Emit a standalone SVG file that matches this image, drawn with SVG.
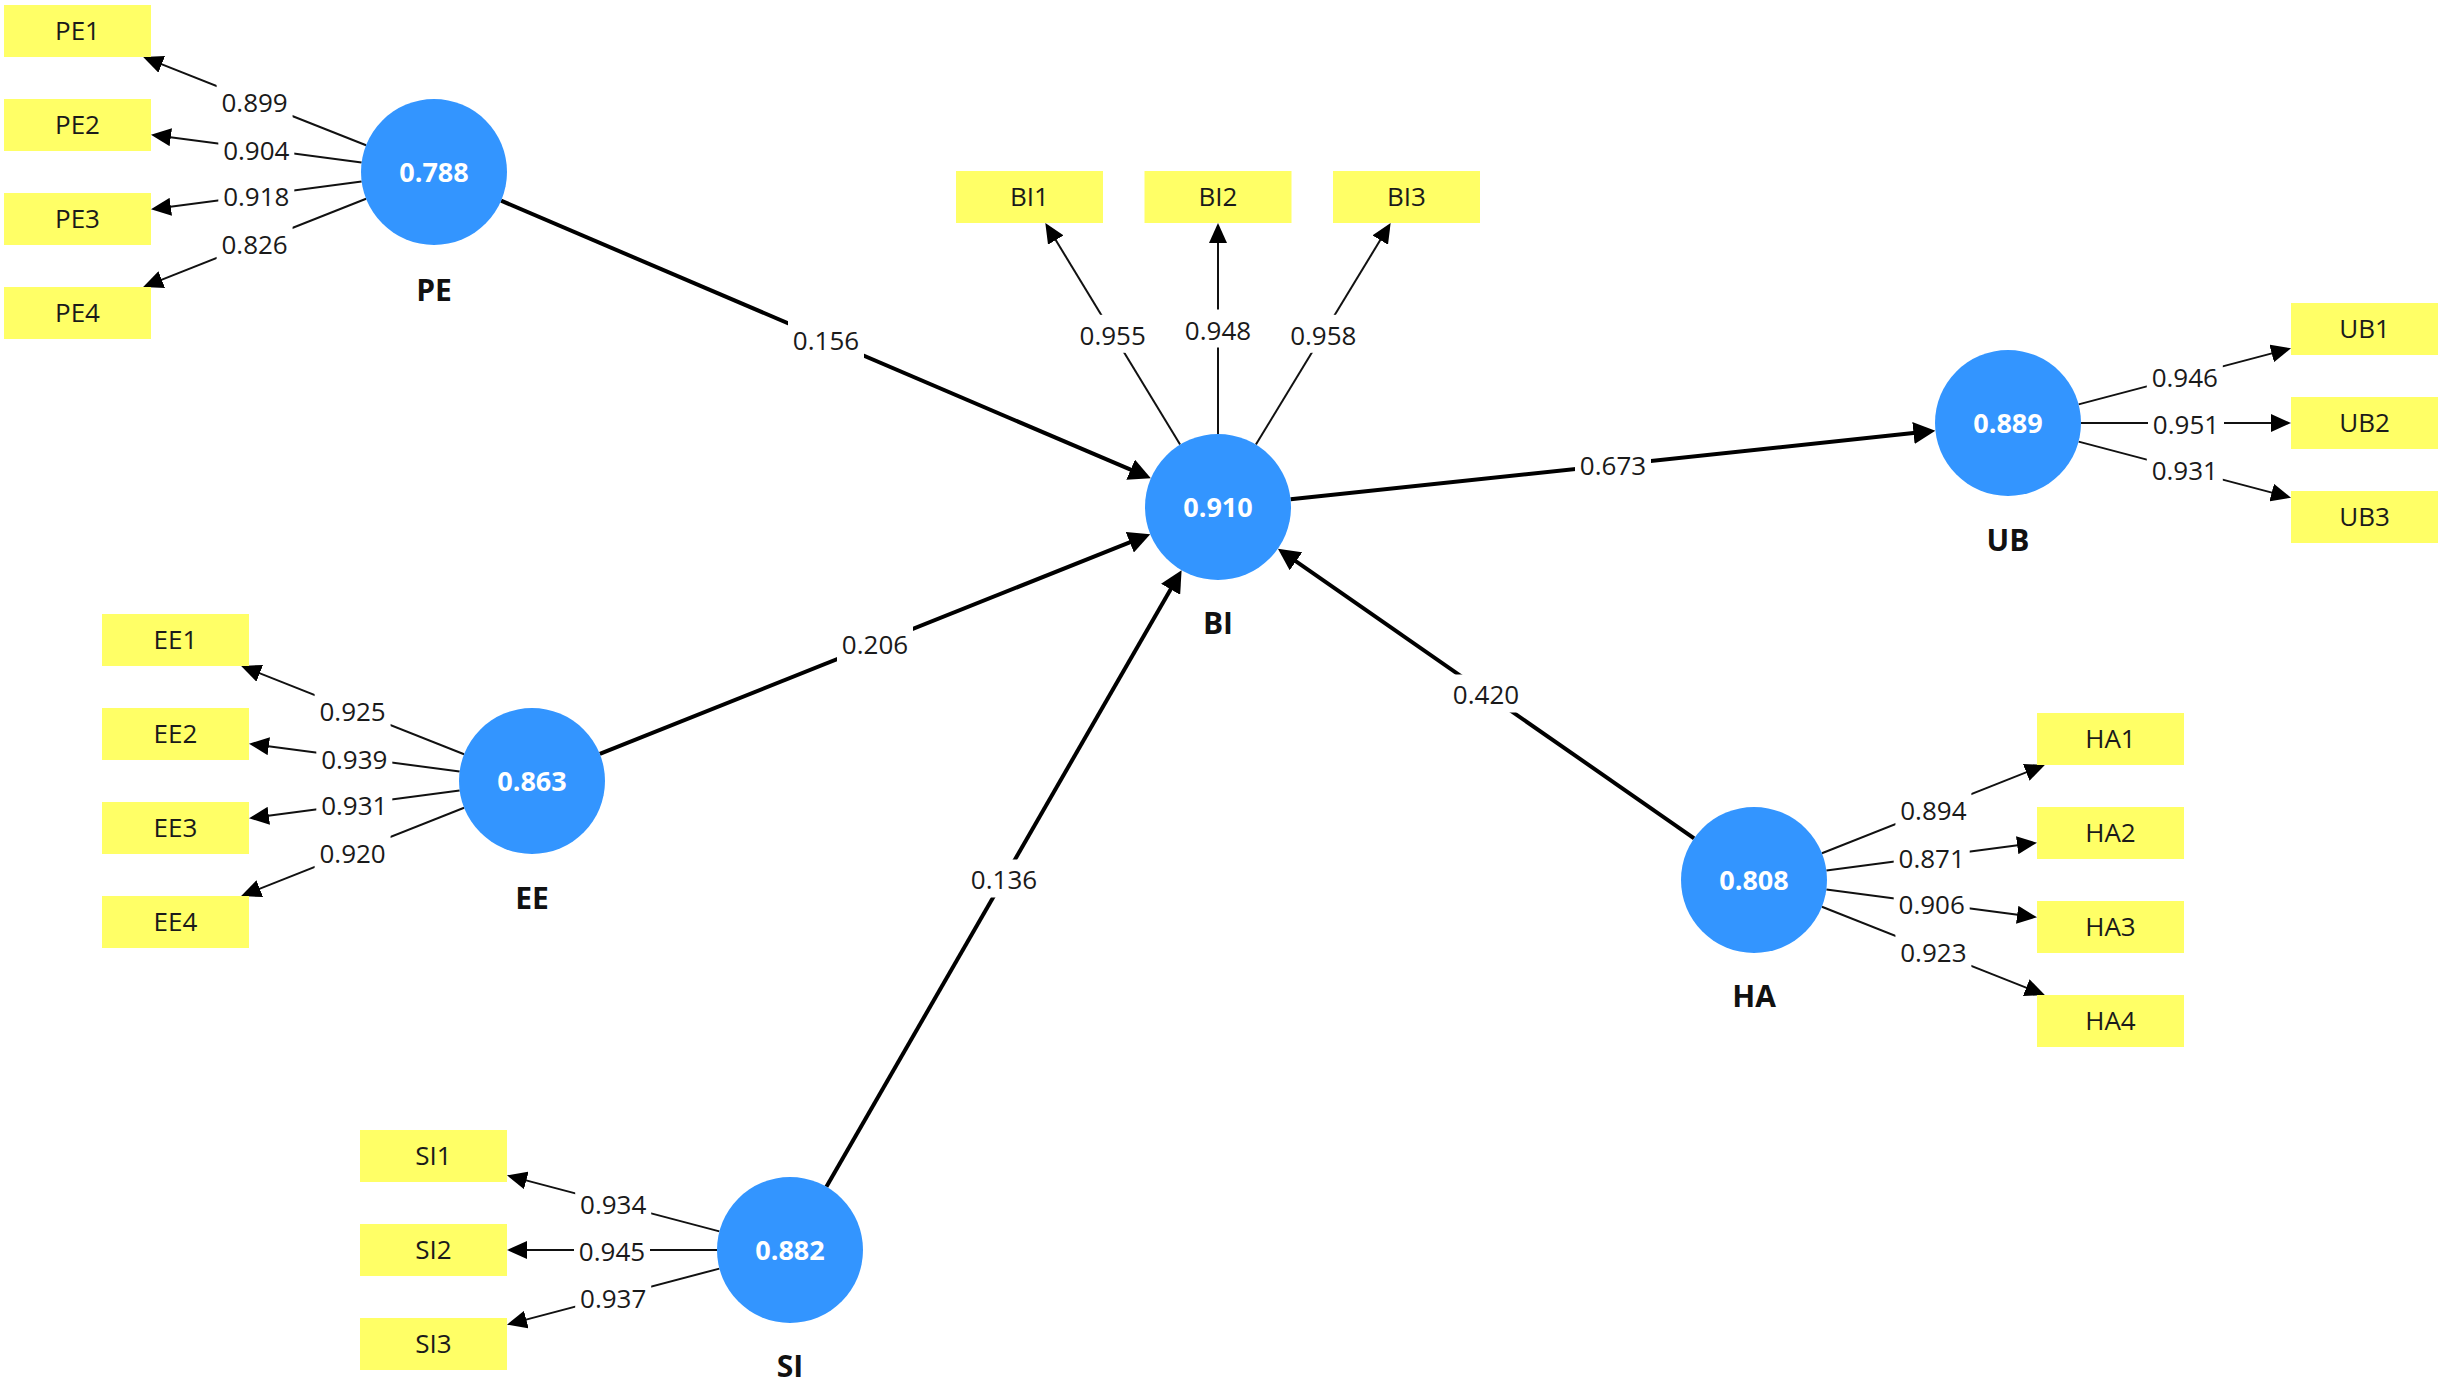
<svg xmlns="http://www.w3.org/2000/svg" width="2443" height="1384" viewBox="0 0 2443 1384">
  <defs>
    <style>
      .ind rect { fill: #ffff66; }
      .ind text { font-family: "Open Sans", "Noto Sans", sans-serif; font-size: 26px; fill: #1a1a1a; text-anchor: middle; dominant-baseline: central; }
      .lv circle { fill: #3395ff; }
      .lv .val { font-family: "Open Sans", "Noto Sans", sans-serif; font-size: 27px; font-weight: bold; fill: #ffffff; text-anchor: middle; dominant-baseline: central; }
      .lv .name { font-family: "Open Sans", "Noto Sans", sans-serif; font-size: 30px; font-weight: bold; fill: #111111; text-anchor: middle; dominant-baseline: central; }
      .load { stroke: #111111; stroke-width: 2; fill: none; marker-end: url(#arrS); }
      .path { stroke: #000000; stroke-width: 4; fill: none; marker-end: url(#arrL); }
      .lbl rect { fill: #ffffff; }
      .lbl text { font-family: "Open Sans", "Noto Sans", sans-serif; font-size: 26px; fill: #1a1a1a; text-anchor: middle; dominant-baseline: central; }
    </style>
    <marker id="arrS" markerUnits="userSpaceOnUse" markerWidth="20" markerHeight="18" refX="12" refY="9" orient="auto">
      <path d="M0,0 L20,9 L0,18 z" fill="#000000"/>
    </marker>
    <marker id="arrL" markerUnits="userSpaceOnUse" markerWidth="22" markerHeight="22" refX="14" refY="11" orient="auto">
      <path d="M0,0 L22,11 L0,22 z" fill="#000000"/>
    </marker>
  </defs>
  <rect x="0" y="0" width="2443" height="1384" fill="#ffffff"/>

  <g id="connectors">
    <!-- structural paths -->
    <line class="path" x1="501.1" y1="200.7" x2="1143.5" y2="475.2"/>
    <line class="path" x1="599.8" y1="753.9" x2="1142.8" y2="537.1"/>
    <line class="path" x1="826.4" y1="1186.7" x2="1177.6" y2="577.2"/>
    <line class="path" x1="1694.1" y1="838.3" x2="1284.5" y2="553.3"/>
    <line class="path" x1="1290.6" y1="499.3" x2="1927.4" y2="431.5"/>
    <!-- PE loadings -->
    <line class="load" x1="366.1" y1="145.2" x2="150.6" y2="59.9"/>
    <line class="load" x1="361.6" y1="162.5" x2="158.9" y2="135.7"/>
    <line class="load" x1="361.6" y1="181.5" x2="158.9" y2="208.3"/>
    <line class="load" x1="366.1" y1="198.8" x2="150.6" y2="284.1"/>
    <!-- EE loadings -->
    <line class="load" x1="464.1" y1="754.2" x2="248.6" y2="668.9"/>
    <line class="load" x1="459.6" y1="771.5" x2="256.9" y2="744.7"/>
    <line class="load" x1="459.6" y1="790.5" x2="256.9" y2="817.3"/>
    <line class="load" x1="464.1" y1="807.8" x2="248.6" y2="893.1"/>
    <!-- SI loadings -->
    <line class="load" x1="719.4" y1="1231.4" x2="514.7" y2="1177.4"/>
    <line class="load" x1="717" y1="1250" x2="515" y2="1250"/>
    <line class="load" x1="719.4" y1="1268.6" x2="514.7" y2="1322.6"/>
    <!-- HA loadings -->
    <line class="load" x1="1821.9" y1="853.2" x2="2037.4" y2="767.9"/>
    <line class="load" x1="1826.4" y1="870.5" x2="2029.1" y2="843.7"/>
    <line class="load" x1="1826.4" y1="889.5" x2="2029.1" y2="916.3"/>
    <line class="load" x1="1821.9" y1="906.8" x2="2037.4" y2="992.1"/>
    <!-- UB loadings -->
    <line class="load" x1="2078.6" y1="404.4" x2="2283.3" y2="350.4"/>
    <line class="load" x1="2081" y1="423" x2="2283" y2="423"/>
    <line class="load" x1="2078.6" y1="441.6" x2="2283.3" y2="495.6"/>
    <!-- BI loadings -->
    <line class="load" x1="1180.1" y1="444.6" x2="1049.5" y2="229.8"/>
    <line class="load" x1="1218" y1="434" x2="1218" y2="231"/>
    <line class="load" x1="1255.9" y1="444.6" x2="1386.5" y2="229.8"/>

    <!-- labels -->
    <g class="lbl">
      <rect x="788" y="320.5" width="76" height="38"/><text x="826" y="339.5">0.156</text>
      <rect x="837" y="625" width="76" height="38"/><text x="875" y="644">0.206</text>
      <rect x="966" y="859.5" width="76" height="38"/><text x="1004" y="878.5">0.136</text>
      <rect x="1448" y="674.5" width="76" height="38"/><text x="1486" y="693.5">0.420</text>
      <rect x="1575" y="446" width="76" height="38"/><text x="1613" y="465">0.673</text>

      <rect x="216.6" y="82.1" width="76" height="38"/><text x="254.6" y="102.1">0.899</text>
      <rect x="218.3" y="129.6" width="76" height="38"/><text x="256.3" y="149.6">0.904</text>
      <rect x="218.3" y="176.4" width="76" height="38"/><text x="256.3" y="196.4">0.918</text>
      <rect x="216.6" y="223.9" width="76" height="38"/><text x="254.6" y="243.9">0.826</text>

      <rect x="314.6" y="691.1" width="76" height="38"/><text x="352.6" y="711.1">0.925</text>
      <rect x="316.3" y="738.6" width="76" height="38"/><text x="354.3" y="758.6">0.939</text>
      <rect x="316.3" y="785.4" width="76" height="38"/><text x="354.3" y="805.4">0.931</text>
      <rect x="314.6" y="832.9" width="76" height="38"/><text x="352.6" y="852.9">0.920</text>

      <rect x="575.2" y="1184.4" width="76" height="38"/><text x="613.2" y="1204.4">0.934</text>
      <rect x="574" y="1231" width="76" height="38"/><text x="612" y="1251">0.945</text>
      <rect x="575.2" y="1277.6" width="76" height="38"/><text x="613.2" y="1297.6">0.937</text>

      <rect x="1895.4" y="790.1" width="76" height="38"/><text x="1933.4" y="810.1">0.894</text>
      <rect x="1893.7" y="837.6" width="76" height="38"/><text x="1931.7" y="857.6">0.871</text>
      <rect x="1893.7" y="884.4" width="76" height="38"/><text x="1931.7" y="904.4">0.906</text>
      <rect x="1895.4" y="931.9" width="76" height="38"/><text x="1933.4" y="951.9">0.923</text>

      <rect x="2146.8" y="357.4" width="76" height="38"/><text x="2184.8" y="377.4">0.946</text>
      <rect x="2148" y="404" width="76" height="38"/><text x="2186" y="424">0.951</text>
      <rect x="2146.8" y="450.4" width="76" height="38"/><text x="2184.8" y="470.4">0.931</text>

      <rect x="1074.7" y="314.8" width="76" height="38"/><text x="1112.7" y="334.8">0.955</text>
      <rect x="1180" y="309.5" width="76" height="38"/><text x="1218" y="329.5">0.948</text>
      <rect x="1285.3" y="314.8" width="76" height="38"/><text x="1323.3" y="334.8">0.958</text>
    </g>
  </g>

  <!-- latent variables -->
  <g id="PE" class="lv"><circle cx="434" cy="172" r="73"/><text class="val" x="434" y="171">0.788</text><text class="name" x="434" y="289">PE</text></g>
  <g id="EE" class="lv"><circle cx="532" cy="781" r="73"/><text class="val" x="532" y="780">0.863</text><text class="name" x="532" y="897">EE</text></g>
  <g id="SI" class="lv"><circle cx="790" cy="1250" r="73"/><text class="val" x="790" y="1249">0.882</text><text class="name" x="790" y="1365">SI</text></g>
  <g id="BI" class="lv"><circle cx="1218" cy="507" r="73"/><text class="val" x="1218" y="506">0.910</text><text class="name" x="1218" y="622">BI</text></g>
  <g id="HA" class="lv"><circle cx="1754" cy="880" r="73"/><text class="val" x="1754" y="879">0.808</text><text class="name" x="1754" y="995">HA</text></g>
  <g id="UB" class="lv"><circle cx="2008" cy="423" r="73"/><text class="val" x="2008" y="422">0.889</text><text class="name" x="2008" y="539">UB</text></g>

  <!-- indicators -->
  <g id="PE1" class="ind"><rect x="4" y="5" width="147" height="52"/><text x="77.5" y="30">PE1</text></g>
  <g id="PE2" class="ind"><rect x="4" y="99" width="147" height="52"/><text x="77.5" y="124">PE2</text></g>
  <g id="PE3" class="ind"><rect x="4" y="193" width="147" height="52"/><text x="77.5" y="218">PE3</text></g>
  <g id="PE4" class="ind"><rect x="4" y="287" width="147" height="52"/><text x="77.5" y="312">PE4</text></g>

  <g id="EE1" class="ind"><rect x="102" y="614" width="147" height="52"/><text x="175.5" y="639">EE1</text></g>
  <g id="EE2" class="ind"><rect x="102" y="708" width="147" height="52"/><text x="175.5" y="733">EE2</text></g>
  <g id="EE3" class="ind"><rect x="102" y="802" width="147" height="52"/><text x="175.5" y="827">EE3</text></g>
  <g id="EE4" class="ind"><rect x="102" y="896" width="147" height="52"/><text x="175.5" y="921">EE4</text></g>

  <g id="SI1" class="ind"><rect x="360" y="1130" width="147" height="52"/><text x="433.5" y="1155">SI1</text></g>
  <g id="SI2" class="ind"><rect x="360" y="1224" width="147" height="52"/><text x="433.5" y="1249">SI2</text></g>
  <g id="SI3" class="ind"><rect x="360" y="1318" width="147" height="52"/><text x="433.5" y="1343">SI3</text></g>

  <g id="BI1" class="ind"><rect x="956" y="171" width="147" height="52"/><text x="1029.5" y="196">BI1</text></g>
  <g id="BI2" class="ind"><rect x="1144.5" y="171" width="147" height="52"/><text x="1218" y="196">BI2</text></g>
  <g id="BI3" class="ind"><rect x="1333" y="171" width="147" height="52"/><text x="1406.5" y="196">BI3</text></g>

  <g id="HA1" class="ind"><rect x="2037" y="713" width="147" height="52"/><text x="2110.5" y="738">HA1</text></g>
  <g id="HA2" class="ind"><rect x="2037" y="807" width="147" height="52"/><text x="2110.5" y="832">HA2</text></g>
  <g id="HA3" class="ind"><rect x="2037" y="901" width="147" height="52"/><text x="2110.5" y="926">HA3</text></g>
  <g id="HA4" class="ind"><rect x="2037" y="995" width="147" height="52"/><text x="2110.5" y="1020">HA4</text></g>

  <g id="UB1" class="ind"><rect x="2291" y="303" width="147" height="52"/><text x="2364.5" y="328">UB1</text></g>
  <g id="UB2" class="ind"><rect x="2291" y="397" width="147" height="52"/><text x="2364.5" y="422">UB2</text></g>
  <g id="UB3" class="ind"><rect x="2291" y="491" width="147" height="52"/><text x="2364.5" y="516">UB3</text></g>
</svg>
